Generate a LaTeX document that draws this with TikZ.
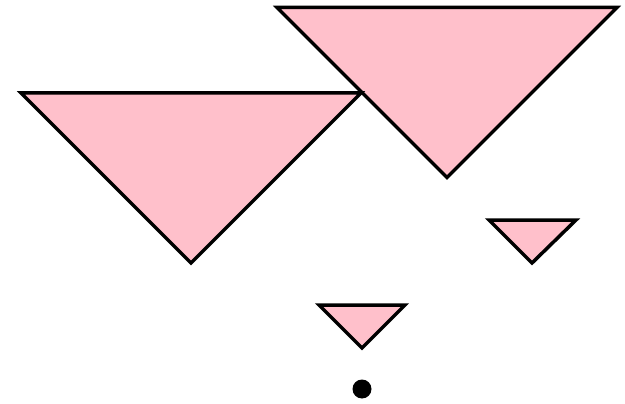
\documentclass[tikz,border=0pt]{standalone}
\definecolor{tripink}{RGB}{255,192,203}
\begin{document}
\begin{tikzpicture}[x=1pt,y=-1pt,
  tri/.style={fill=tripink,draw=black,line width=3.5pt,line join=miter}]
\useasboundingbox (0,0) rectangle (625,404);
\draw[tri] (277,7.5) coordinate (b1) -- (617,7.5) coordinate (b2) -- (447,177.5) coordinate (b3) -- cycle;
\draw[tri] (21,93) coordinate (a1) -- (361,93) coordinate (a2) -- (191,263) coordinate (a3) -- cycle;
\draw[tri] (489,220) coordinate (c1) -- (576,220) coordinate (c2) -- (532,263) coordinate (c3) -- cycle;
\draw[tri] (319,305) coordinate (d1) -- (405,305) coordinate (d2) -- (362,348) coordinate (d3) -- cycle;
\fill[black] (362,389) circle (9.5) coordinate (dot);
\end{tikzpicture}
\end{document}
